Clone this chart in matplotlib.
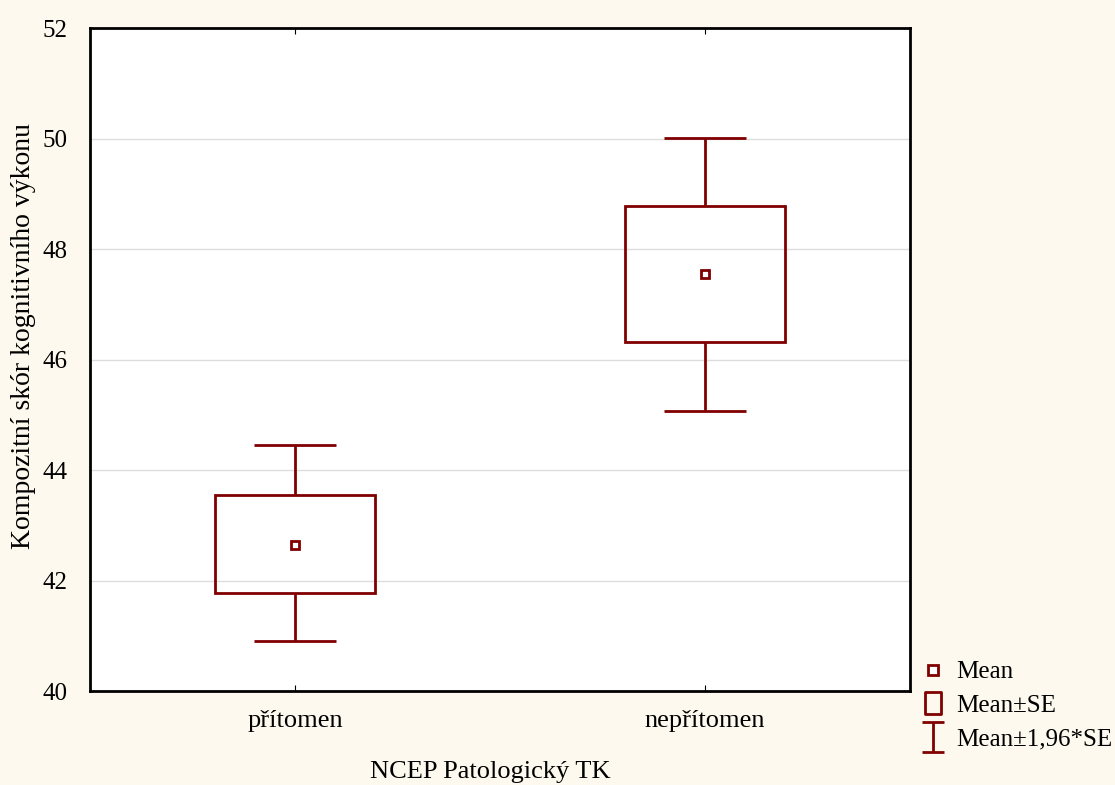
import numpy as np
import matplotlib.pyplot as plt
from matplotlib.patches import Rectangle
from matplotlib.path import Path
from matplotlib.lines import Line2D

plt.rcParams["font.family"] = ["Liberation Serif", "DejaVu Serif"]
plt.rcParams["font.size"] = 19

categories = ["přítomen", "nepřítomen"]
means = [42.65, 47.54]
se_low = [41.77, 46.32]
se_high = [43.55, 48.77]
ci_low = [40.90, 45.06]
ci_high = [44.45, 50.01]

red = "#800000"
bg = "#fdf9ee"

fig = plt.figure(figsize=(11.15, 7.85), dpi=100, facecolor=bg)
ax = fig.add_axes([0.0807, 0.1197, 0.7354, 0.8446])
ax.set_facecolor("white")

x = np.arange(len(categories))
box_w = 0.39
cap_w = 0.2

for i in x:
    # whiskers (mean +- 1.96*SE)
    ax.vlines(i, ci_low[i], se_low[i], color=red, lw=2)
    ax.vlines(i, se_high[i], ci_high[i], color=red, lw=2)
    ax.hlines([ci_low[i], ci_high[i]], i - cap_w / 2, i + cap_w / 2, color=red, lw=2)
    # box (mean +- SE)
    ax.add_patch(Rectangle((i - box_w / 2, se_low[i]), box_w, se_high[i] - se_low[i],
                           fill=False, edgecolor=red, lw=2, zorder=3))

ax.plot(x, means, ls="none", marker="s", ms=6, mfc="white", mec=red, mew=2, zorder=4)

ax.set_xlim(-0.5, 1.5)
ax.set_ylim(40, 52)
ax.set_xticks(x)
ax.set_xticklabels(categories)
ax.set_yticks(np.arange(40, 53, 2))
ax.tick_params(axis="x", direction="in", length=4, top=True, pad=14)
ax.tick_params(axis="y", length=0, pad=16, labelsize=18)
ax.yaxis.grid(True, color="#dddddd", lw=1)
ax.set_axisbelow(True)
for s in ax.spines.values():
    s.set_linewidth(2)
    s.set_color("black")

ax.set_xlabel("NCEP Patologický TK")
ax.xaxis.set_label_coords(0.488, -0.105)
ax.set_ylabel("Kompozitní skór kognitivního výkonu", fontsize=20)
ax.yaxis.set_label_coords(-0.066, 0.535)

# legend
ibeam = Path([(-0.35, -0.5), (0.35, -0.5), (0, -0.5), (0, 0.5), (-0.35, 0.5), (0.35, 0.5)],
             [Path.MOVETO, Path.LINETO, Path.MOVETO, Path.LINETO, Path.MOVETO, Path.LINETO])
rect = Path([(-0.35, -0.5), (0.35, -0.5), (0.35, 0.5), (-0.35, 0.5), (-0.35, -0.5)],
            [Path.MOVETO, Path.LINETO, Path.LINETO, Path.LINETO, Path.CLOSEPOLY])
handles = [
    Line2D([], [], ls="none", marker="s", ms=7, mfc="white", mec=red, mew=2),
    Line2D([], [], ls="none", marker=rect, ms=16, mfc="none", mec=red, mew=2),
    Line2D([], [], ls="none", marker=ibeam, ms=22, mfc="none", mec=red, mew=2),
]
fig.legend(handles, ["Mean", "Mean±SE", "Mean±1,96*SE"], loc="upper left",
           bbox_to_anchor=(0.814, 0.174), frameon=False, handlelength=1.0,
           handletextpad=0.45, labelspacing=0.45, borderpad=0, fontsize=18)

fig.savefig("out.png", dpi=100, facecolor=bg)
